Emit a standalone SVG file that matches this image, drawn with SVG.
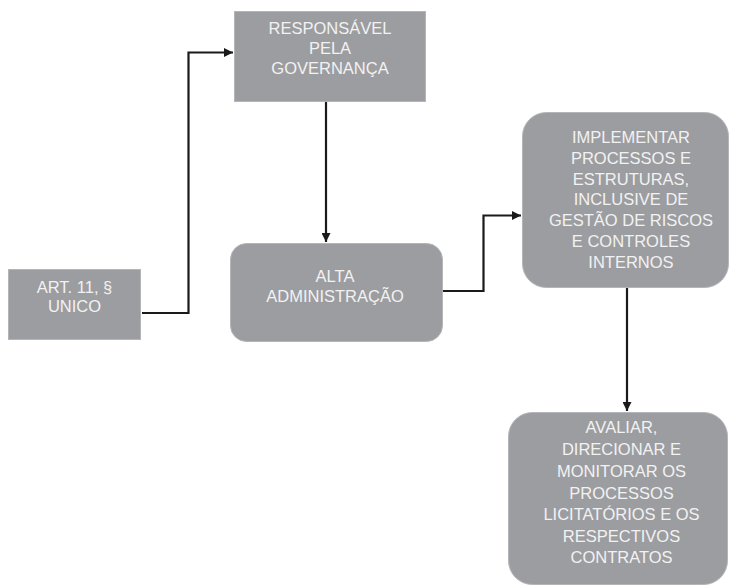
<svg xmlns="http://www.w3.org/2000/svg" width="730" height="587" viewBox="0 0 730 587">
<defs>
<marker id="ah" markerWidth="9" markerHeight="9" viewBox="0 0 9 9" refX="9" refY="4.5" orient="auto" markerUnits="userSpaceOnUse">
<path d="M0,0 L9,4.5 L0,9 Z" fill="#1a1a1a"/>
</marker>
<style>
.box{fill:#9c9da0;stroke:#b4b5b8;stroke-width:1}
.t{font-family:"Liberation Sans",Arial,sans-serif;font-size:16.5px;fill:#f2f2f2;text-anchor:middle}
.c{fill:none;stroke:#1a1a1a;stroke-width:2.2}
</style>
</defs>
<rect width="730" height="587" fill="#ffffff"/>
<g id="connectors">
<path class="c" d="M142,313 H188.5 V52.5 H233" marker-end="url(#ah)"/>
<path class="c" d="M326,102 V242" marker-end="url(#ah)"/>
<path class="c" d="M443,291 H483.5 V215.5 H521" marker-end="url(#ah)"/>
<path class="c" d="M627,288 V411" marker-end="url(#ah)"/>
</g>
<g id="art11">
<rect class="box" x="8.5" y="269.5" width="132" height="70"/>
<text class="t" x="74.5" y="293">ART. 11, §</text>
<text class="t" x="74.5" y="312">UNICO</text>
</g>
<g id="responsavel">
<rect class="box" x="234.5" y="11.5" width="191" height="90"/>
<text class="t" x="330" y="34">RESPONSÁVEL</text>
<text class="t" x="330" y="54">PELA</text>
<text class="t" x="330" y="74">GOVERNANÇA</text>
</g>
<g id="alta">
<rect class="box" x="230.5" y="243.5" width="212" height="98" rx="16"/>
<text class="t" x="335" y="282">ALTA</text>
<text class="t" x="335" y="302">ADMINISTRAÇÃO</text>
</g>
<g id="implementar">
<rect class="box" x="522.5" y="112.5" width="206" height="175" rx="24"/>
<text class="t" x="631" y="143">IMPLEMENTAR</text>
<text class="t" x="631" y="163.8">PROCESSOS E</text>
<text class="t" x="631" y="184.6">ESTRUTURAS,</text>
<text class="t" x="631" y="205.4">INCLUSIVE DE</text>
<text class="t" x="631" y="226.2">GESTÃO DE RISCOS</text>
<text class="t" x="631" y="247">E CONTROLES</text>
<text class="t" x="631" y="267.8">INTERNOS</text>
</g>
<g id="avaliar">
<rect class="box" x="508.5" y="412.5" width="219" height="172" rx="24"/>
<text class="t" x="621.5" y="433">AVALIAR,</text>
<text class="t" x="621.5" y="455">DIRECIONAR E</text>
<text class="t" x="621.5" y="477">MONITORAR OS</text>
<text class="t" x="621.5" y="498.5">PROCESSOS</text>
<text class="t" x="621.5" y="520">LICITATÓRIOS E OS</text>
<text class="t" x="621.5" y="541.5">RESPECTIVOS</text>
<text class="t" x="621.5" y="563">CONTRATOS</text>
</g>
</svg>
